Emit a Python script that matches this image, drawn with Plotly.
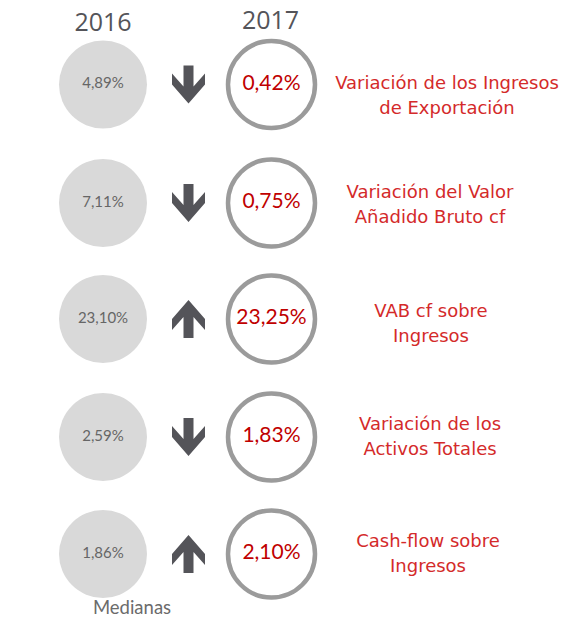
import plotly.graph_objects as go

# Data
years = ["2016", "2017"]
values_2016 = [4.89, 7.11, 23.10, 2.59, 1.86]
values_2017 = [0.42, 0.75, 23.25, 1.83, 2.10]
labels = [
    ["Variación de los Ingresos", "de Exportación"],
    ["Variación del Valor", "Añadido Bruto cf"],
    ["VAB cf sobre", "Ingresos"],
    ["Variación de los", "Activos Totales"],
    ["Cash-flow sobre", "Ingresos"],
]
footnote = "Medianas"

# Layout (pixel coordinates)
W, H = 579, 619
row_y = [84.5, 203, 319, 437, 554]
x_2016, x_arrow, x_2017 = 103, 188.5, 271.5
label_x = [447, 430, 431, 430, 428]
label_y = [97, 205.5, 324.5, 437.5, 554.5]
line_gap = 25


def fmt(v):
    return f"{v:.2f}".replace(".", ",") + "%"


def arrow_path(cx, cy, up):
    s = -1 if up else 1
    pts = [(-5, -19), (5, -19), (5, 2), (16.5, -11), (16.5, 0), (0, 19),
           (-16.5, 0), (-16.5, -11), (-5, 2), (-5, -19)]
    return [cx + dx for dx, dy in pts], [cy + s * dy for dx, dy in pts]


fig = go.Figure()

# 2016 filled circles
fig.add_trace(go.Scatter(
    x=[x_2016] * len(values_2016), y=row_y, mode="markers+text",
    marker=dict(size=88, color="#d9d9d9", line=dict(width=0)),
    text=[fmt(v) for v in values_2016], textposition="middle center",
    textfont=dict(family="Lato", size=15, color="#666666"),
))

# 2017 outlined circles
fig.add_trace(go.Scatter(
    x=[x_2017] * len(values_2017), y=row_y, mode="markers+text",
    marker=dict(size=87, color="white", line=dict(width=4.5, color="#9b9b9b")),
    text=[fmt(v) for v in values_2017], textposition="middle center",
    textfont=dict(family="Lato", size=21, color="#c00000"),
))

# arrows, direction from the change between years
ax, ay = [], []
for v16, v17, y in zip(values_2016, values_2017, row_y):
    px_, py_ = arrow_path(x_arrow, y, v17 > v16)
    ax += px_ + [None]
    ay += py_ + [None]
fig.add_trace(go.Scatter(
    x=ax, y=ay, mode="lines", fill="toself",
    fillcolor="#545459", line=dict(width=0, color="#545459"),
))

# indicator labels, two lines each
for i, (l1, l2) in enumerate(labels):
    fig.add_trace(go.Scatter(
        x=[label_x[i], label_x[i]],
        y=[label_y[i] - line_gap / 2, label_y[i] + line_gap / 2],
        mode="text", text=[l1, l2], textposition="middle center",
        textfont=dict(family="DejaVu Sans", size=18, color="#d42a2a"),
    ))

# year headers
fig.add_trace(go.Scatter(
    x=[x_2016, x_2017 - 1], y=[25, 23], mode="text", text=years,
    textposition="middle center",
    textfont=dict(family="Open Sans", size=25, color="#545459"),
))

# footnote
fig.add_trace(go.Scatter(
    x=[132], y=[609], mode="text", text=[footnote],
    textposition="middle center",
    textfont=dict(family="Lato", size=18.5, color="#6b6b6b"),
))

fig.update_layout(
    width=W, height=H,
    margin=dict(l=0, r=0, t=0, b=0),
    paper_bgcolor="white", plot_bgcolor="white",
    showlegend=False,
    xaxis=dict(range=[0, W], visible=False, fixedrange=True),
    yaxis=dict(range=[H, 0], visible=False, fixedrange=True),
)

fig.write_html("out.html", config={"displayModeBar": False},
               post_script="document.body.style.margin='0';")
